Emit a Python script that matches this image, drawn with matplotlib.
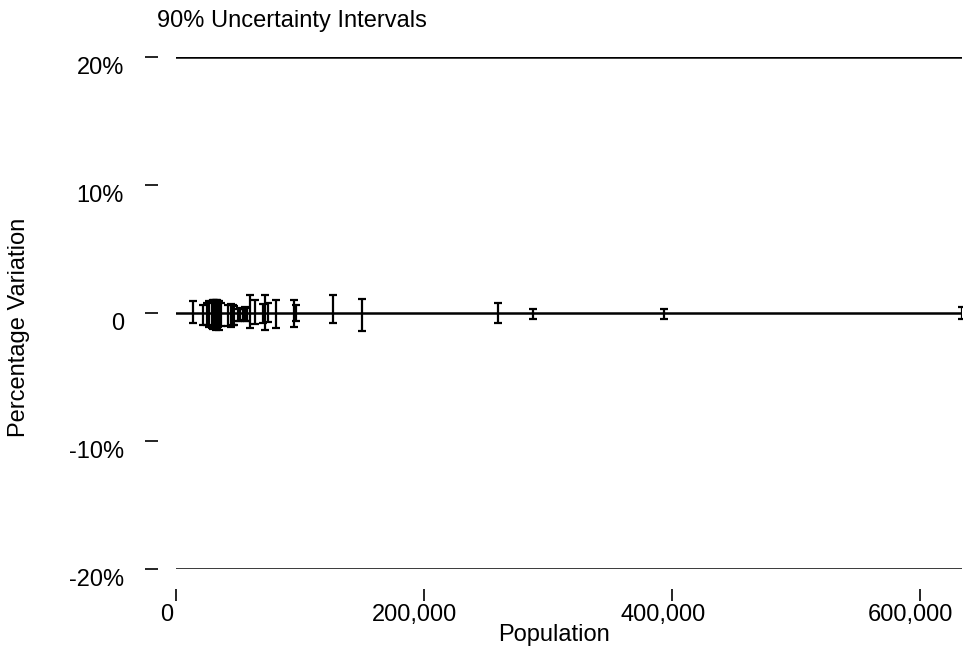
import matplotlib.pyplot as plt
from matplotlib.transforms import ScaledTranslation

plt.rcParams['font.family'] = ['Liberation Sans', 'DejaVu Sans']
plt.rcParams['font.size'] = 17

# population of each area
population = [14000, 22000, 25000, 27000, 29000, 30000, 31000, 32000, 33000, 34000,
              35000, 36000, 42000, 44000, 46000, 47000, 50000, 52000, 54000, 56000,
              57000, 60000, 64000, 70000, 72000, 74000, 81000, 95000, 97000, 127000,
              150000, 260000, 288000, 394000, 634000]
# upper and lower ends of the 90% interval, in percent
upper = [0.95, 0.6, 0.8, 0.9, 0.95, 1.0, 1.0, 1.05, 1.0, 0.9,
         0.95, 0.8, 0.65, 0.7, 0.6, 0.55, 0.35, 0.4, 0.35, 0.45,
         0.4, 1.4, 1.0, 0.7, 1.4, 0.8, 1.0, 1.0, 0.6, 1.4,
         1.1, 0.75, 0.3, 0.3, 0.45]
lower = [-0.75, -0.9, -0.9, -1.1, -1.2, -1.25, -1.2, -1.3, -1.2, -1.1,
         -1.3, -1.0, -1.0, -1.1, -0.9, -0.95, -0.6, -0.6, -0.55, -0.65,
         -0.6, -1.2, -0.85, -0.8, -1.35, -0.7, -1.2, -1.1, -0.6, -0.8,
         -1.4, -0.8, -0.5, -0.5, -0.5]

yticks = [-20, -10, 0, 10, 20]
ytick_labels = ["-20%", "-10%", "0", "10%", "20%"]
xticks = [0, 200000, 400000, 600000]
xtick_labels = ["0", "200,000", "400,000", "600,000"]

fig = plt.figure(figsize=(9.7, 6.55), dpi=100)
ax = fig.add_axes([176 / 970, 86 / 655, 786 / 970, 512 / 655])

xmax = max(population)
for level in [-20, 0, 20]:
    ax.plot([0, xmax], [level, level], color="black", lw=1.8)

mid = [(u + l) / 2 for u, l in zip(upper, lower)]
err_lo = [m - l for m, l in zip(mid, lower)]
err_hi = [u - m for m, u in zip(mid, upper)]
ax.errorbar(population, mid, yerr=[err_lo, err_hi], fmt="none", ecolor="black",
            elinewidth=1.6, capsize=2.9, capthick=1.6)

ax.set_xlim(0, xmax)
ax.set_ylim(-20, 20)
for s in ax.spines.values():
    s.set_visible(False)
ax.spines['left'].set_position(('outward', 13))
ax.spines['bottom'].set_position(('outward', 14.5))

ax.set_yticks(yticks)
ax.set_yticklabels(ytick_labels)
ax.set_xticks(xticks)
ax.set_xticklabels(xtick_labels)
ax.tick_params(axis='y', length=9.4, width=1.2, pad=15)
ax.tick_params(axis='x', length=8.6, width=1.2, pad=2)
for lab in ax.get_xticklabels():
    lab.set_transform(lab.get_transform() + ScaledTranslation(-0.09, 0, fig.dpi_scale_trans))
for lab in ax.get_yticklabels():
    lab.set_transform(lab.get_transform() + ScaledTranslation(0, -0.09, fig.dpi_scale_trans))

ax.set_xlabel("Population")
ax.xaxis.set_label_coords(0.481, -0.107)
ax.set_ylabel("Percentage Variation")
ax.yaxis.set_label_coords(-0.186, 0.471)
fig.text(157 / 970, 1 - 21 / 655, "90% Uncertainty Intervals", ha="left", va="center")

fig.savefig("out.png", dpi=100)
